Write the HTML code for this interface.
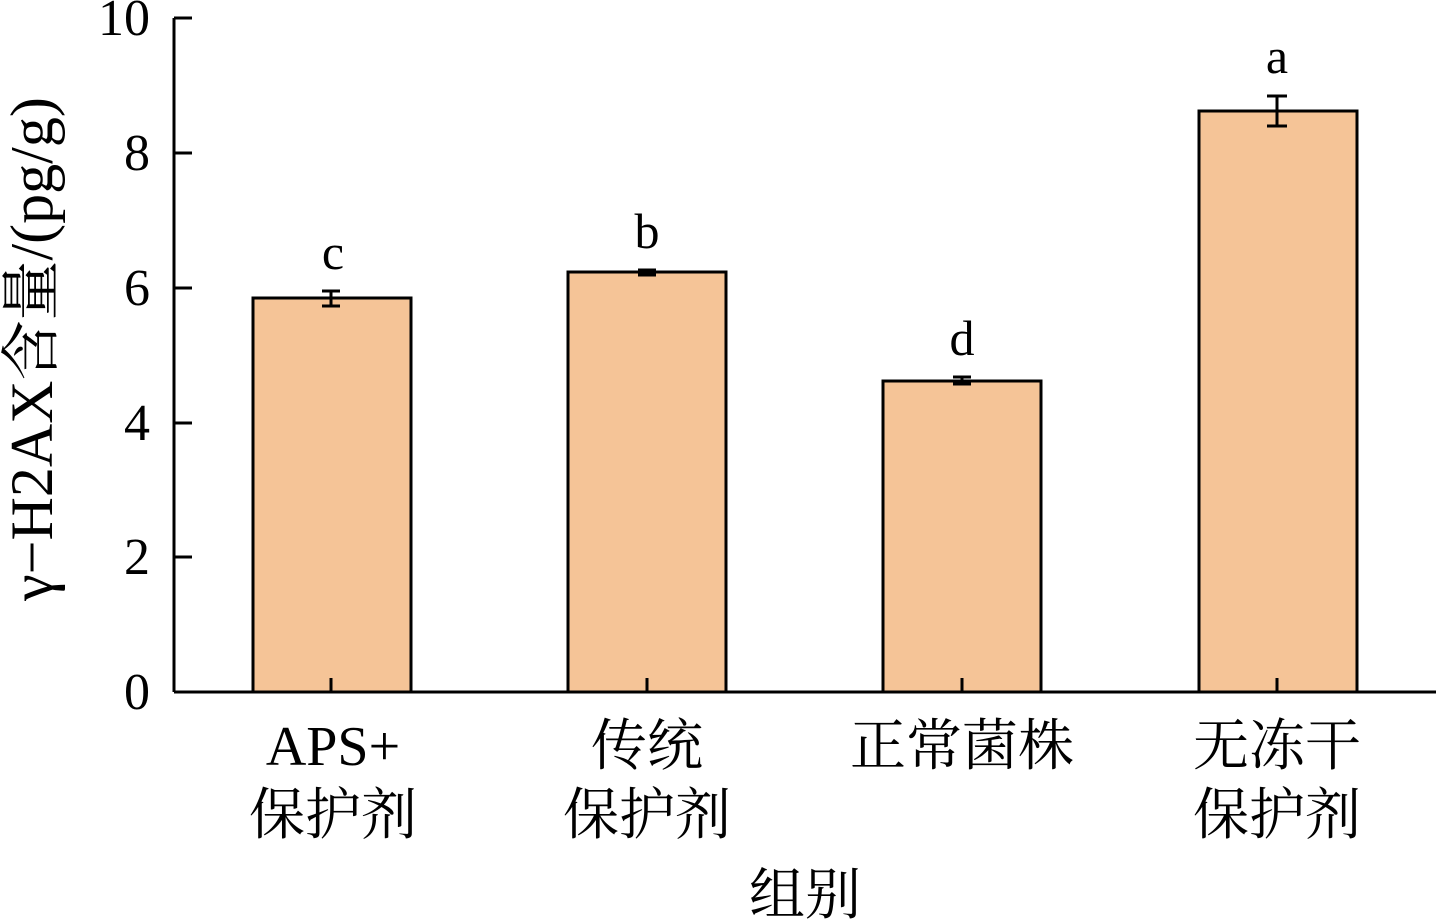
<!DOCTYPE html>
<html><head><meta charset="utf-8"><style>
html,body{margin:0;padding:0;background:#fff;}
svg{display:block;}
text{font-family:"Liberation Serif","Noto Serif CJK SC",serif;fill:#000;}
</style></head><body>
<svg width="1436" height="924" viewBox="0 0 1436 924" xmlns="http://www.w3.org/2000/svg">
<g stroke="#000" stroke-width="3" fill="#f5c497">
<rect x="253" y="298" width="158" height="394"/>
<rect x="568" y="272" width="158" height="420"/>
<rect x="883" y="381" width="158" height="311"/>
<rect x="1199" y="111" width="158" height="581"/>
</g>
<g stroke="#000" stroke-width="3" fill="none">
<line x1="174" y1="18" x2="174" y2="692"/>
<line x1="174" y1="692" x2="1436" y2="692"/>
<line x1="174" y1="18" x2="192" y2="18"/>
<line x1="174" y1="153" x2="192" y2="153"/>
<line x1="174" y1="288" x2="192" y2="288"/>
<line x1="174" y1="423" x2="192" y2="423"/>
<line x1="174" y1="557" x2="192" y2="557"/>
<line x1="331" y1="692" x2="331" y2="678"/>
<line x1="647" y1="692" x2="647" y2="678"/>
<line x1="962" y1="692" x2="962" y2="678"/>
<line x1="1277" y1="692" x2="1277" y2="678"/>
<path d="M331 291V306M322 291H340M322 306H340"/>
<path d="M647 270V275M638 270H656M638 275H656"/>
<path d="M962 377V384M953 377H971M953 384H971"/>
<path d="M1277 96V126M1267 96H1287M1267 126H1287"/>
</g>
<g font-size="52" text-anchor="end">
<text x="150" y="709">0</text>
<text x="150" y="574">2</text>
<text x="150" y="440">4</text>
<text x="150" y="305">6</text>
<text x="150" y="170">8</text>
<text x="150" y="35">10</text>
</g>
<g font-size="50" text-anchor="middle">
<text x="333" y="269">c</text>
<text x="647" y="248">b</text>
<text x="962" y="355">d</text>
<text x="1277" y="73">a</text>
</g>
<g font-size="56" text-anchor="middle">
<text x="333" y="765">APS+</text>
<text x="333" y="834">保护剂</text>
<text x="647" y="765">传统</text>
<text x="647" y="834">保护剂</text>
<text x="962" y="765">正常菌株</text>
<text x="1277" y="765">无冻干</text>
<text x="1277" y="834">保护剂</text>
<text x="805" y="914">组别</text>
</g>
<text font-size="60" text-anchor="middle" transform="translate(52,349) rotate(-90)">γ−H2AX含量/(pg/g)</text>
</svg>
</body></html>
